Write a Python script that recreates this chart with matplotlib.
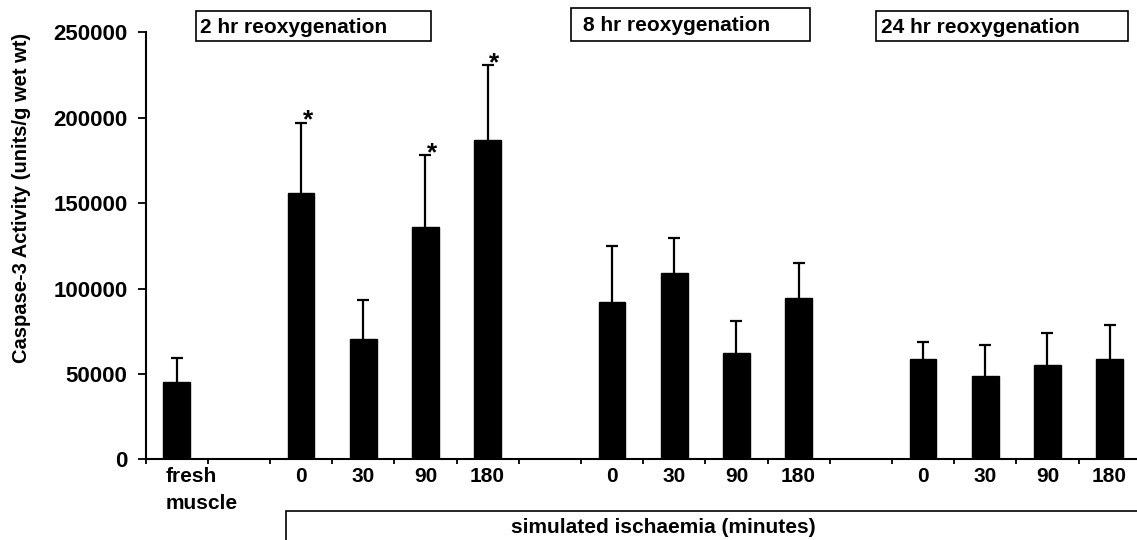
import matplotlib
matplotlib.use("Agg")
import matplotlib.pyplot as plt
import matplotlib.transforms as mtransforms
from matplotlib.patches import Rectangle
import numpy as np

plt.rcParams['font.family'] = ['Liberation Sans', 'DejaVu Sans']
plt.rcParams['font.weight'] = 'bold'

# ---------------- data ----------------
ischaemia_labels = ['0', '30', '90', '180']
fresh_label = 'fresh\nmuscle'
fresh_mean = 45000
fresh_err = 14600
reox2_mean = [156000, 70500, 136000, 187000]
reox2_err = [41000, 23000, 42000, 43700]
reox2_sig = [True, False, True, True]
reox8_mean = [92000, 109000, 62500, 94500]
reox8_err = [33000, 20500, 18500, 20200]
reox24_mean = [58700, 48600, 55200, 58900]
reox24_err = [9800, 18200, 18900, 19700]
group_titles = ['2 hr reoxygenation', '8 hr reoxygenation', '24 hr reoxygenation']
xlabel_text = 'simulated ischaemia (minutes)'
ylabel_text = 'Caspase-3 Activity (units/g wet wt)'
yticks = [0, 50000, 100000, 150000, 200000, 250000]

# ---------------- layout ----------------
W, H = 1137, 540
fig = plt.figure(figsize=(W / 100, H / 100), dpi=100)

def fx(px):
    return px / W

def fy(py):
    return 1 - py / H

ax_left, ax_right = 145.5, 1140.7
ax_top, ax_bottom = 32.3, 459.3
ax = fig.add_axes([fx(ax_left), fy(ax_bottom), fx(ax_right - ax_left), (ax_bottom - ax_top) / H])

group_start = [2, 7, 12]
x_fresh = 0
x_groups = [[s + i for i in range(4)] for s in group_start]
means = [reox2_mean, reox8_mean, reox24_mean]
errs = [reox2_err, reox8_err, reox24_err]

xs = [x_fresh] + [x for g in x_groups for x in g]
ms = [fresh_mean] + [m for g in means for m in g]
es = [fresh_err] + [e for g in errs for e in g]

bw = 0.43
ax.bar(xs, ms, width=bw, color='black', edgecolor='black', zorder=2)
eb = ax.errorbar(xs, ms, yerr=[np.zeros(len(es)), es], fmt='none', ecolor='black',
                 elinewidth=1.6, capsize=4.3, capthick=1.6, zorder=3)
# hide the lower caps (only upper error bars are shown)
caplines = eb[1]
if len(caplines) == 2:
    caplines[0].set_visible(False)

# significance stars
for x, m, e, s in zip(x_groups[0], reox2_mean, reox2_err, reox2_sig):
    if s:
        ax.annotate('*', xy=(x, m + e), xytext=(4.8, -3.3), textcoords='offset points',
                    ha='center', va='baseline', fontsize=19, fontweight='bold')

ax.set_xlim(-0.5, 15.5)
ax.set_ylim(0, 250000)
ax.set_yticks(yticks)
ax.set_yticklabels([str(v) for v in yticks], fontsize=16, fontweight='bold')
ax.set_xticks(np.arange(-0.5, 16, 1))
ax.set_xticklabels([])
ax.tick_params(axis='y', direction='out', length=6, width=1.3, pad=7)
ax.tick_params(axis='x', direction='out', length=3.6, width=1.3)
for sp in ['top', 'right']:
    ax.spines[sp].set_visible(False)
for sp in ['left', 'bottom']:
    ax.spines[sp].set_linewidth(1.5)

# category labels
trans = mtransforms.blended_transform_factory(ax.transData, fig.transFigure)
for g in x_groups:
    for x, lab in zip(g, ischaemia_labels):
        ax.text(x, fy(482.5), lab, transform=trans, ha='center', va='baseline',
                fontsize=15, fontweight='bold')
fresh_lines = fresh_label.split('\n')
fresh_x = (166 - ax_left) / ((ax_right - ax_left) / 16) - 0.5
ax.text(fresh_x, fy(482.3), fresh_lines[0], transform=trans, ha='left', va='baseline',
        fontsize=15, fontweight='bold')
ax.text(fresh_x, fy(509.3), fresh_lines[1], transform=trans, ha='left', va='baseline',
        fontsize=15, fontweight='bold')

# y label
fig.text(fx(21.7), fy(198), ylabel_text, rotation=90, ha='center', va='center',
         fontsize=14.5, fontweight='bold')

# boxed titles
boxes = [(195.5, 430.7, 11, 40.7, 200, 33.3),
         (571, 810, 8.3, 40.7, 583, 30.7),
         (875.5, 1127.5, 11, 40.7, 881, 33.3)]
for (x0, x1, y0, y1, tx, ty), title in zip(boxes, group_titles):
    fig.patches.append(Rectangle((fx(x0), fy(y1)), fx(x1 - x0), (y1 - y0) / H,
                                 transform=fig.transFigure, fill=False,
                                 edgecolor='black', linewidth=1.2))
    fig.text(fx(tx), fy(ty), title, ha='left', va='baseline', fontsize=15, fontweight='bold')

# bottom box
fig.patches.append(Rectangle((fx(285.7), fy(545)), fx(1160 - 285.7), (545 - 510.7) / H,
                             transform=fig.transFigure, fill=False,
                             edgecolor='black', linewidth=1.2))
fig.text(fx(510.7), fy(533), xlabel_text, ha='left', va='baseline', fontsize=15, fontweight='bold')

fig.savefig('out.png', dpi=100)
